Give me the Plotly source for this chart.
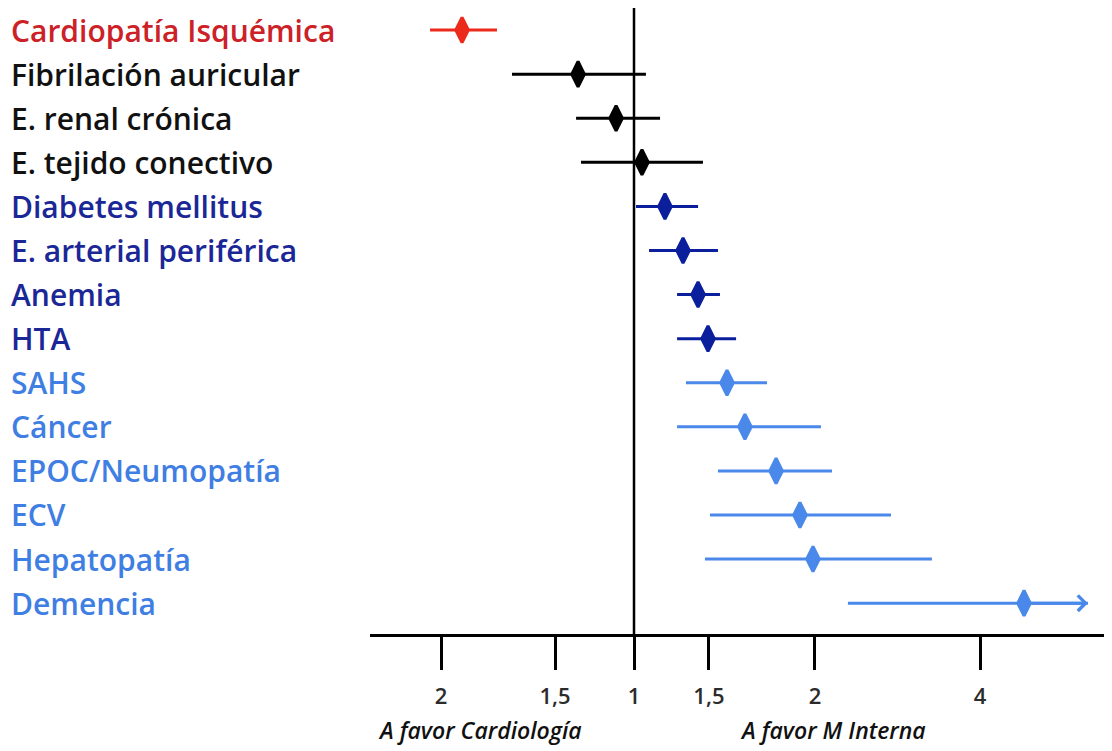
import plotly.graph_objects as go

# Forest plot; x values are positions on the chart's (non-uniform) OR axis,
# where 0 = OR 1, and the axis tick labels below carry the printed OR values.
labels = [
    "Cardiopatía Isquémica", "Fibrilación auricular", "E. renal crónica",
    "E. tejido conectivo", "Diabetes mellitus", "E. arterial periférica",
    "Anemia", "HTA", "SAHS", "Cáncer", "EPOC/Neumopatía", "ECV",
    "Hepatopatía", "Demencia",
]
groups = ["red", "black", "black", "black", "dark", "dark", "dark", "dark",
          "light", "light", "light", "light", "light", "light"]
estimate = [-0.950, -0.309, -0.099, 0.044, 0.171, 0.271, 0.354, 0.409,
            0.514, 0.613, 0.785, 0.917, 0.989, 2.155]
ci_low = [-1.127, -0.674, -0.320, -0.293, 0.011, 0.083, 0.238, 0.238,
          0.287, 0.238, 0.464, 0.420, 0.392, 1.182]
ci_high = [-0.757, 0.066, 0.144, 0.381, 0.354, 0.464, 0.475, 0.564,
           0.735, 1.033, 1.094, 1.420, 1.646, 2.508]
tick_pos = [-1.066, -0.436, 0.0, 0.414, 1.0, 1.912]
tick_text = ["2", "1,5", "1", "1,5", "2", "4"]

marker_colors = {"red": "#ec2a1c", "black": "#000000", "dark": "#0b1f9c", "light": "#4a88ea"}
label_colors = {"red": "#cc2127", "black": "#111111", "dark": "#1b2796", "light": "#3f7ee2"}
FONT = "Open Sans"

fig = go.Figure()
rows = list(range(len(labels)))
for g in ["red", "black", "dark", "light"]:
    idx = [i for i in rows if groups[i] == g]
    fig.add_trace(go.Scatter(
        x=[estimate[i] for i in idx],
        y=idx,
        mode="markers",
        marker=dict(symbol="diamond-tall", size=18, color=marker_colors[g],
                    line=dict(width=3, color=marker_colors[g])),
        error_x=dict(
            type="data", symmetric=False,
            array=[ci_high[i] - estimate[i] for i in idx],
            arrayminus=[estimate[i] - ci_low[i] for i in idx],
            color=marker_colors[g], thickness=3, width=0,
        ),
        showlegend=False,
        hoverinfo="skip",
    ))

# open arrow on the last CI (truncated)
last = len(labels) - 1
fig.add_annotation(
    x=ci_high[last], y=last, ax=estimate[last], ay=last,
    xref="x", yref="y", axref="x", ayref="y",
    showarrow=True, arrowhead=4, arrowsize=1.0, arrowwidth=3,
    arrowcolor=marker_colors["light"], text="",
)

for i, lab in enumerate(labels):
    fig.add_annotation(
        x=-0.4865, y=i, xref="paper", yref="y", text=lab, showarrow=False,
        xanchor="left", yanchor="middle",
        font=dict(family=FONT, size=30, weight=600, color=label_colors[groups[i]]),
    )

fig.add_shape(type="line", xref="x", yref="paper", x0=0, x1=0, y0=0, y1=1,
              line=dict(color="black", width=2.5))

fig.add_annotation(x=-0.85, y=-0.182, xref="x", yref="paper", text="<i>A favor Cardiología</i>",
                   showarrow=False, font=dict(family=FONT, size=23, weight=600, color="#111"))
fig.add_annotation(x=1.1, y=-0.182, xref="x", yref="paper", text="<i>A favor M Interna</i>",
                   showarrow=False, font=dict(family=FONT, size=23, weight=600, color="#111"))

# page body has an 8px margin, so the figure is sized to end at the window edge
fig.update_layout(
    width=1104, height=743,
    margin=dict(l=362, r=0, t=0, b=117),
    plot_bgcolor="white", paper_bgcolor="white",
)
fig.update_xaxes(
    range=[-1.4586, 2.641], showgrid=False, zeroline=False,
    showline=True, linecolor="black", linewidth=3,
    ticks="outside", ticklen=33, tickwidth=3, tickcolor="black",
    tickvals=tick_pos, ticktext=tick_text, ticklabelstandoff=8,
    tickfont=dict(family=FONT, size=22, weight=600, color="#2b2b2b"),
)
fig.update_yaxes(range=[13.70, -0.50], visible=False)

fig.write_html("out.html")
